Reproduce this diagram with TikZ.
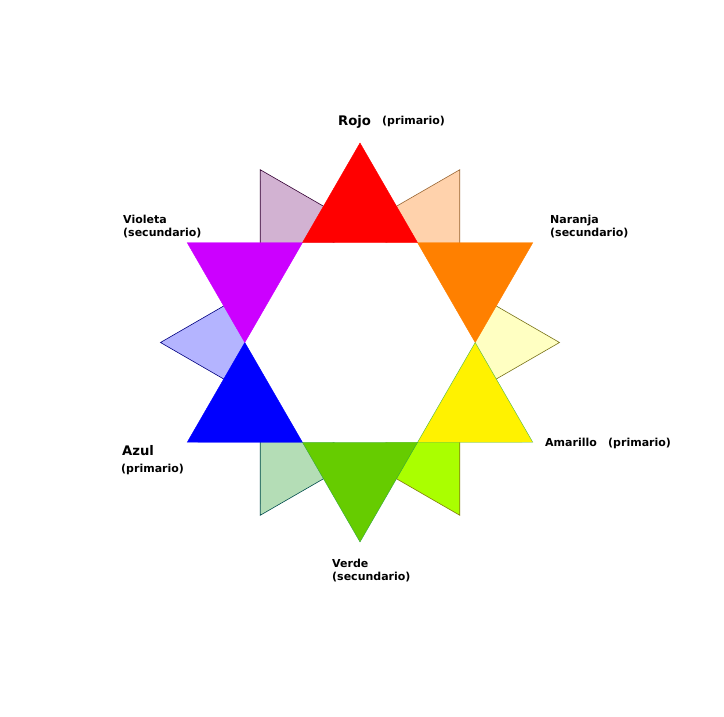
\documentclass[tikz,border=0pt]{standalone}
\usepackage{fontspec}
\setmainfont{DejaVu Sans}
\definecolor{cRed}{HTML}{FF0000}
\definecolor{cOrange}{HTML}{FF8000}
\definecolor{cYellow}{HTML}{FFF200}
\definecolor{cGreen}{HTML}{66CC00}
\definecolor{cBlue}{HTML}{0000FF}
\definecolor{cViolet}{HTML}{CC00FF}
\definecolor{sPeach}{HTML}{FFD2AC}
\definecolor{sLilac}{HTML}{D2B2D2}
\definecolor{sLav}{HTML}{B4B4FF}
\definecolor{sLYellow}{HTML}{FFFFC2}
\definecolor{sYGreen}{HTML}{AAFF00}
\definecolor{sLGreen}{HTML}{B4DDB6}
\begin{document}
\begin{tikzpicture}[x=1pt,y=1pt,
  lab/.style={font=\bfseries\fontsize{11}{13}\selectfont, inner sep=0pt, anchor=base west, text=black},
  labbig/.style={font=\bfseries\fontsize{13.2}{15}\selectfont, inner sep=0pt, anchor=base west, text=black},
  small/.style={line width=0.6pt, line join=miter},
  big/.style={line width=0.4pt, line join=miter}]
\useasboundingbox (0,0) rectangle (724,716);
\fill[white] (0,0) rectangle (724,716);
\begin{scope}[shift={(360,373.5)}]
  \def\R{199.5pt}\def\r{115.2pt}
  % small pale triangles (tips of the rotated hexagram)
  \filldraw[small, fill=sLYellow, draw=olive!80!black] (0:\R) -- (-30:\r) -- (30:\r) -- cycle;
  \filldraw[small, fill=sPeach, draw=brown!80!black] (60:\R) -- (30:\r) -- (90:\r) -- cycle;
  \filldraw[small, fill=sLilac, draw=violet!40!black] (120:\R) -- (90:\r) -- (150:\r) -- cycle;
  \filldraw[small, fill=sLav, draw=blue!50!black] (180:\R) -- (150:\r) -- (210:\r) -- cycle;
  \filldraw[small, fill=sLGreen, draw=teal!60!black] (240:\R) -- (210:\r) -- (270:\r) -- cycle;
  \filldraw[small, fill=sYGreen, draw=olive!90!black] (300:\R) -- (270:\r) -- (330:\r) -- cycle;
  % white hexagon in the middle
  \fill[white] (0:\r) -- (60:\r) -- (120:\r) -- (180:\r) -- (240:\r) -- (300:\r) -- cycle;
  % big triangles
  \filldraw[big, fill=cRed, draw=cRed] (90:\R) -- (60:\r) -- (120:\r) -- cycle;
  \filldraw[big, fill=cOrange, draw=cOrange] (30:\R) -- (0:\r) -- (60:\r) -- cycle;
  \filldraw[big, fill=cYellow, draw=green!60!black!70] (-30:\R) -- (-60:\r) -- (0:\r) -- cycle;
  \filldraw[big, fill=cGreen, draw=teal!50!cGreen] (-90:\R) -- (-120:\r) -- (-60:\r) -- cycle;
  \filldraw[big, fill=cBlue, draw=cBlue] (-150:\R) -- (-180:\r) -- (-120:\r) -- cycle;
  \filldraw[big, fill=cViolet, draw=cViolet] (150:\R) -- (120:\r) -- (180:\r) -- cycle;
\end{scope}
% labels
\node[labbig] (rojo) at (338,590) {Rojo};
\node[lab] (rojop) at (382,591) {(primario)};
\node[lab] (naranja) at (550,492) {Naranja};
\node[lab] (naranjas) at (550,479) {(secundario)};
\node[lab] (violeta) at (123,492) {Violeta};
\node[lab] (violetas) at (123,479) {(secundario)};
\node[labbig] (azul) at (122,260) {Azul};
\node[lab] (azulp) at (121,243) {(primario)};
\node[lab] (amarillo) at (545,269) {Amarillo};
\node[lab] (amarillop) at (608,269) {(primario)};
\node[lab] (verde) at (332,148) {Verde};
\node[lab] (verdes) at (332,135) {(secundario)};
\end{tikzpicture}
\end{document}
